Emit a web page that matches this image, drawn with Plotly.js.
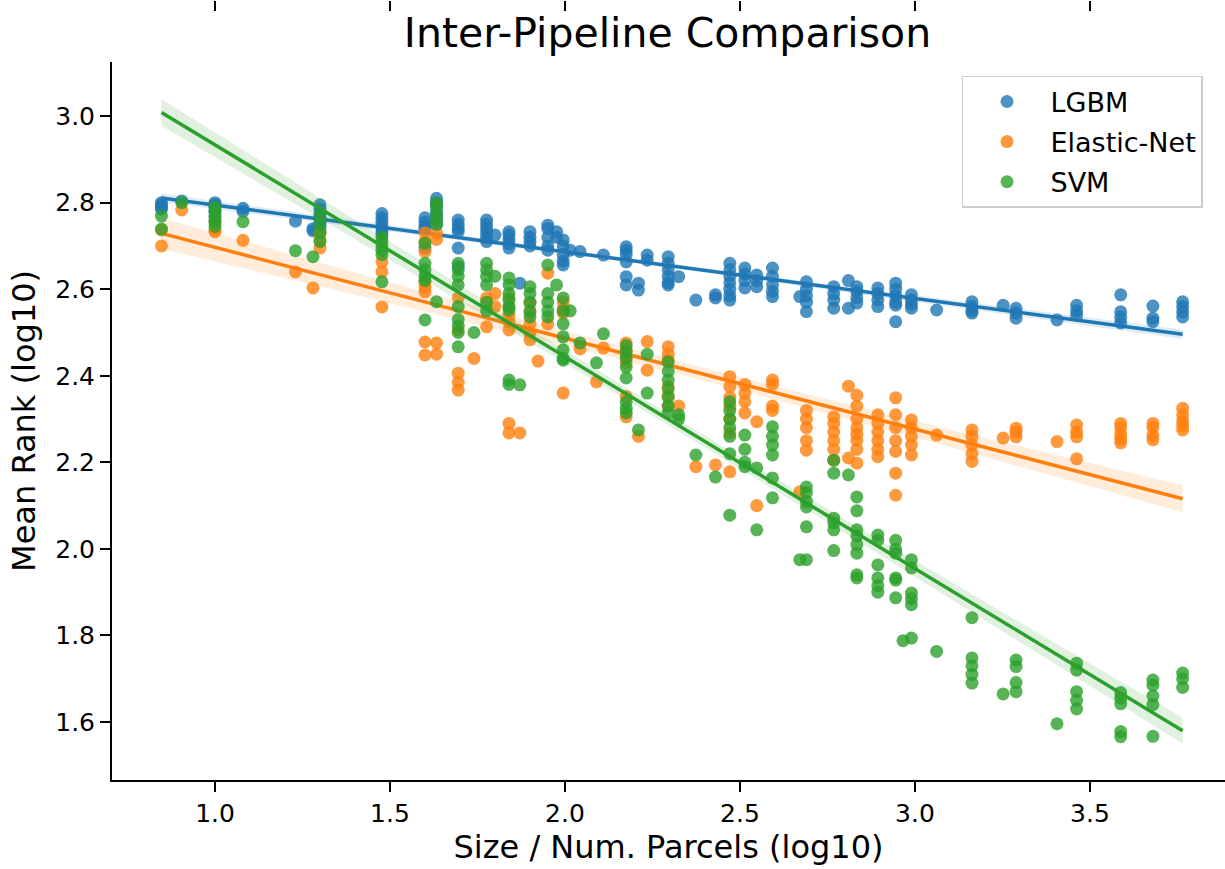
<!DOCTYPE html>
<html>
<head>
<meta charset="utf-8">
<script src="https://cdn.plot.ly/plotly-3.0.1.min.js"></script>
<style>html,body{margin:0;padding:0;background:#fff;}#chart{width:1225px;height:869px;}</style>
</head>
<body>
<div id="chart"></div>
<script>
// ---- data (x = log10 size/parcels, list of mean-rank values) ----
const seriesNames = ['LGBM', 'Elastic-Net', 'SVM'];
const seriesColors = ['#1f77b4', '#ff7f0e', '#2ca02c'];
const xTicks = [1.0, 1.5, 2.0, 2.5, 3.0, 3.5];
const yTicks = [1.6, 1.8, 2.0, 2.2, 2.4, 2.6, 2.8, 3.0];
// regression line values at the smallest and largest x
const fitStartY = [2.811, 2.729, 3.0085];
const fitEndY = [2.496, 2.116, 1.580];

const lgbmCols = [
  [0.847, [2.80, 2.795, 2.79, 2.785]], [0.905, [2.804]], [1.0, [2.80, 2.795, 2.79, 2.78, 2.77]],
  [1.08, [2.787, 2.78]], [1.23, [2.757]], [1.28, [2.74, 2.735]],
  [1.30, [2.795, 2.785, 2.775, 2.765, 2.755, 2.745, 2.735]], [1.477, [2.775, 2.765, 2.755, 2.745, 2.735, 2.728]],
  [1.60, [2.765, 2.755, 2.745, 2.74, 2.695]], [1.633, [2.81, 2.80, 2.795, 2.78, 2.77, 2.76, 2.75]],
  [1.695, [2.76, 2.75, 2.74, 2.733, 2.695, 2.652]], [1.776, [2.76, 2.75, 2.74, 2.73, 2.72, 2.71]],
  [1.80, [2.725]], [1.84, [2.733, 2.725, 2.715, 2.705, 2.695]], [1.871, [2.614]],
  [1.90, [2.733, 2.72, 2.71, 2.70]], [1.951, [2.748, 2.74, 2.72, 2.70, 2.69]], [1.976, [2.733, 2.72]],
  [1.995, [2.714, 2.70, 2.68, 2.665, 2.656]], [2.015, [2.69]], [2.043, [2.687]], [2.11, [2.679]],
  [2.175, [2.698, 2.69, 2.68, 2.663, 2.629, 2.61]], [2.21, [2.614, 2.598]], [2.235, [2.679, 2.667]],
  [2.295, [2.675, 2.66, 2.645, 2.63, 2.615, 2.61]], [2.325, [2.629]], [2.374, [2.575]], [2.43, [2.587, 2.58]],
  [2.471, [2.66, 2.645, 2.63, 2.615, 2.60, 2.585, 2.575]], [2.514, [2.649, 2.635, 2.62, 2.603]],
  [2.548, [2.633, 2.62, 2.606]], [2.593, [2.649, 2.63, 2.61, 2.595, 2.583]], [2.671, [2.583]],
  [2.69, [2.617, 2.60, 2.585, 2.57, 2.548]], [2.768, [2.606, 2.59, 2.575, 2.556]], [2.81, [2.62, 2.556]],
  [2.834, [2.606, 2.595, 2.58, 2.568]], [2.894, [2.603, 2.59, 2.575, 2.56]],
  [2.945, [2.614, 2.60, 2.585, 2.57, 2.563, 2.525]], [2.99, [2.587, 2.575, 2.565, 2.556]], [3.062, [2.552]],
  [3.163, [2.571, 2.56, 2.55, 2.545]], [3.252, [2.563]], [3.289, [2.556, 2.545, 2.533]], [3.406, [2.529]],
  [3.462, [2.563, 2.55, 2.54]], [3.588, [2.587, 2.548, 2.535, 2.522]], [3.68, [2.561, 2.533, 2.525]],
  [3.765, [2.571, 2.56, 2.548, 2.536]]
];

const enetCols = [
  [0.847, [2.737, 2.70]], [0.905, [2.783]], [1.0, [2.757, 2.737, 2.733]], [1.08, [2.713]], [1.23, [2.64]],
  [1.28, [2.603]], [1.30, [2.73, 2.715, 2.695]], [1.477, [2.663, 2.64, 2.559]],
  [1.60, [2.73, 2.71, 2.687, 2.617, 2.605, 2.594, 2.478, 2.448]], [1.633, [2.73, 2.715, 2.476, 2.45]],
  [1.695, [2.58, 2.506, 2.406, 2.385, 2.367]], [1.74, [2.44]], [1.776, [2.58, 2.513]], [1.80, [2.59, 2.56]],
  [1.84, [2.58, 2.56, 2.54, 2.525, 2.506, 2.29, 2.268]], [1.871, [2.268]],
  [1.90, [2.568, 2.545, 2.52, 2.50, 2.483]], [1.923, [2.434]], [1.951, [2.637, 2.52]],
  [1.995, [2.571, 2.555, 2.545, 2.36]], [2.043, [2.462]], [2.09, [2.386]], [2.11, [2.464]],
  [2.175, [2.476, 2.46, 2.445, 2.43, 2.352, 2.305]], [2.21, [2.26]], [2.235, [2.479, 2.413]],
  [2.295, [2.467, 2.45, 2.436, 2.375, 2.355, 2.33]], [2.325, [2.33]], [2.374, [2.19]], [2.43, [2.194]],
  [2.471, [2.398, 2.375, 2.35, 2.33, 2.30, 2.268, 2.178]], [2.514, [2.38, 2.36, 2.34, 2.314]],
  [2.548, [2.294, 2.10]], [2.593, [2.39, 2.38, 2.33, 2.32]], [2.671, [2.132]],
  [2.69, [2.32, 2.30, 2.28, 2.25, 2.228]], [2.768, [2.305, 2.29, 2.27, 2.25, 2.23, 2.205]],
  [2.81, [2.376, 2.21]], [2.834, [2.355, 2.33, 2.30, 2.28, 2.265, 2.25, 2.23, 2.198]],
  [2.894, [2.31, 2.29, 2.27, 2.25, 2.23, 2.213]], [2.945, [2.349, 2.31, 2.28, 2.25, 2.225, 2.175, 2.124]],
  [2.99, [2.298, 2.28, 2.26, 2.24, 2.217]], [3.062, [2.263]], [3.163, [2.275, 2.26, 2.24, 2.22, 2.202]],
  [3.252, [2.256]], [3.289, [2.279, 2.27, 2.259]], [3.406, [2.248]], [3.462, [2.286, 2.27, 2.259, 2.208]],
  [3.588, [2.29, 2.28, 2.265, 2.255, 2.245]], [3.68, [2.29, 2.28, 2.262, 2.252]],
  [3.765, [2.325, 2.31, 2.295, 2.285, 2.275]]
];

const svmCols = [
  [0.847, [2.769, 2.739]], [0.905, [2.80]], [1.0, [2.79, 2.78, 2.765, 2.755, 2.745]], [1.08, [2.756]],
  [1.23, [2.689]], [1.28, [2.675]], [1.30, [2.77, 2.75, 2.73, 2.71]], [1.477, [2.72, 2.71, 2.70, 2.69, 2.68, 2.617]],
  [1.60, [2.706, 2.66, 2.645, 2.63, 2.62, 2.529]], [1.633, [2.80, 2.79, 2.775, 2.76, 2.75, 2.571]],
  [1.695, [2.66, 2.645, 2.63, 2.61, 2.56, 2.53, 2.515, 2.50, 2.467]], [1.74, [2.50]],
  [1.776, [2.66, 2.645, 2.63, 2.61, 2.57, 2.55]], [1.80, [2.63]],
  [1.84, [2.626, 2.61, 2.59, 2.575, 2.56, 2.552, 2.39, 2.38]], [1.871, [2.379]],
  [1.90, [2.606, 2.59, 2.57, 2.55, 2.536]], [1.951, [2.656, 2.59, 2.57, 2.55, 2.536]], [1.976, [2.61]],
  [1.995, [2.58, 2.55, 2.52, 2.49, 2.46, 2.44, 2.436]], [2.015, [2.55]], [2.043, [2.476]], [2.09, [2.43]],
  [2.11, [2.497]], [2.175, [2.47, 2.455, 2.44, 2.42, 2.395, 2.34, 2.325, 2.314]], [2.21, [2.275]],
  [2.235, [2.45, 2.36]], [2.295, [2.432, 2.41, 2.39, 2.37, 2.35, 2.33, 2.314]], [2.325, [2.31, 2.30]],
  [2.374, [2.217]], [2.43, [2.166]], [2.471, [2.34, 2.32, 2.30, 2.28, 2.26, 2.22, 2.078]],
  [2.514, [2.263, 2.23, 2.20, 2.19]], [2.548, [2.187, 2.044]], [2.593, [2.282, 2.26, 2.24, 2.217, 2.164, 2.118]],
  [2.671, [1.975]], [2.69, [2.143, 2.13, 2.11, 2.097, 2.051, 1.975]],
  [2.768, [2.205, 2.175, 2.071, 2.06, 2.044, 1.996]], [2.81, [2.171]],
  [2.834, [2.12, 2.088, 2.044, 2.03, 2.01, 1.99, 1.94, 1.933]], [2.894, [2.032, 2.02, 1.963, 1.933, 1.915, 1.90]],
  [2.945, [2.02, 2.00, 1.99, 1.933, 1.928, 1.887]], [2.966, [1.788]],
  [2.99, [1.975, 1.956, 1.898, 1.885, 1.871, 1.794]], [3.062, [1.763]],
  [3.163, [1.841, 1.748, 1.73, 1.71, 1.69]], [3.252, [1.665]], [3.289, [1.743, 1.728, 1.691, 1.67]],
  [3.406, [1.596]], [3.462, [1.736, 1.72, 1.67, 1.65, 1.63]], [3.588, [1.668, 1.655, 1.642, 1.578, 1.566]],
  [3.68, [1.697, 1.685, 1.66, 1.64, 1.567]], [3.765, [1.713, 1.70, 1.68]]
];

// ---- helpers ----
function flatten(cols) {
  const xs = [], ys = [];
  cols.forEach(([x, vals]) => vals.forEach(v => { xs.push(x); ys.push(v); }));
  return {xs, ys};
}
function rgba(hex, a) {
  const n = parseInt(hex.slice(1), 16);
  return `rgba(${(n >> 16) & 255},${(n >> 8) & 255},${n & 255},${a})`;
}
// regression line through the read end values, with a 95% confidence band
// whose width comes from the scatter around that line (as seaborn regplot)
function fitBand(xs, ys, y0, y1) {
  const n = xs.length;
  const lo = Math.min(...xs), hi = Math.max(...xs);
  const b = (y1 - y0) / (hi - lo), a = y0 - b * lo;
  const mx = xs.reduce((p, q) => p + q, 0) / n;
  let sxx = 0, sse = 0;
  for (let i = 0; i < n; i++) { sxx += (xs[i] - mx) ** 2; sse += (ys[i] - (a + b * xs[i])) ** 2; }
  const s = Math.sqrt(sse / (n - 2));
  const gx = [], gy = [], up = [], dn = [];
  for (let k = 0; k <= 100; k++) {
    const x = lo + (hi - lo) * k / 100;
    const y = a + b * x;
    const se = s * Math.sqrt(1 / n + (x - mx) ** 2 / sxx);
    gx.push(x); gy.push(y); up.push(y + 1.97 * se); dn.push(y - 1.97 * se);
  }
  return {gx, gy, up, dn};
}

const allCols = [lgbmCols, enetCols, svmCols];
const traces = [];
allCols.forEach((cols, i) => {
  const {xs, ys} = flatten(cols);
  const c = seriesColors[i];
  traces.push({
    type: 'scatter', mode: 'markers', x: xs, y: ys, name: seriesNames[i],
    legendgroup: 'g' + i,
    marker: {color: c, size: 13, opacity: 0.8, line: {width: 0}},
    hoverinfo: 'x+y'
  });
  const f = fitBand(xs, ys, fitStartY[i], fitEndY[i]);
  traces.push({
    type: 'scatter', mode: 'lines', x: f.gx.concat(f.gx.slice().reverse()),
    y: f.up.concat(f.dn.slice().reverse()), fill: 'toself', fillcolor: rgba(c, 0.15),
    line: {width: 0}, showlegend: false, hoverinfo: 'skip'
  });
  traces.push({
    type: 'scatter', mode: 'lines', x: f.gx, y: f.gy, line: {color: c, width: 3.5},
    showlegend: false, hoverinfo: 'skip'
  });
});
// empty trace so the top tick row (from the cropped panel above) is drawn
traces.push({type: 'scatter', x: [], y: [], xaxis: 'x2', showlegend: false, hoverinfo: 'skip'});

const xRange = [0.7057, 3.886];
const FONT = 'DejaVu Sans';
const layout = {
  width: 1225, height: 869,
  margin: {l: 112, r: 0, t: 0, b: 89, pad: 0},
  paper_bgcolor: '#ffffff', plot_bgcolor: '#ffffff',
  font: {family: FONT, color: '#000000'},
  showlegend: true,
  title: {
    text: 'Inter-Pipeline Comparison', font: {family: FONT, size: 41, color: '#000'},
    xref: 'container', yref: 'container', x: 0.5449, xanchor: 'center', y: 0.962, yanchor: 'middle'
  },
  xaxis: {
    range: xRange, tickvals: xTicks, ticktext: xTicks.map(v => v.toFixed(1)),
    showline: true, linecolor: '#000', linewidth: 2, mirror: false,
    ticks: 'outside', ticklen: 10, tickwidth: 2, tickcolor: '#000',
    showgrid: false, zeroline: false, tickfont: {family: FONT, size: 25},
    title: {text: 'Size / Num. Parcels (log10)', font: {family: FONT, size: 32}, standoff: 6},
    automargin: false, fixedrange: true
  },
  xaxis2: {
    overlaying: 'x', anchor: 'free', position: 1, side: 'top', range: xRange, tickvals: xTicks,
    ticks: 'inside', ticklen: 10, tickwidth: 2, tickcolor: '#000', showticklabels: false,
    showline: false, showgrid: false, zeroline: false, automargin: false, fixedrange: true
  },
  yaxis: {
    domain: [0, 0.9205], range: [1.466, 3.125], tickvals: yTicks, ticktext: yTicks.map(v => v.toFixed(1)),
    showline: true, linecolor: '#000', linewidth: 2,
    ticks: 'outside', ticklen: 10, tickwidth: 2, tickcolor: '#000',
    showgrid: false, zeroline: false, tickfont: {family: FONT, size: 25},
    title: {text: 'Mean Rank (log10)', font: {family: FONT, size: 32}, standoff: 10},
    automargin: false, fixedrange: true
  },
  legend: {
    x: 0.7637, y: 0.9026, xanchor: 'left', yanchor: 'top',
    bgcolor: 'rgba(255,255,255,0.8)', bordercolor: '#cccccc', borderwidth: 1.5,
    font: {family: FONT, size: 27}, traceorder: 'grouped', tracegroupgap: 2, itemwidth: 77
  }
};

Plotly.newPlot('chart', traces, layout, {displayModeBar: false, staticPlot: true});
</script>
</body>
</html>
